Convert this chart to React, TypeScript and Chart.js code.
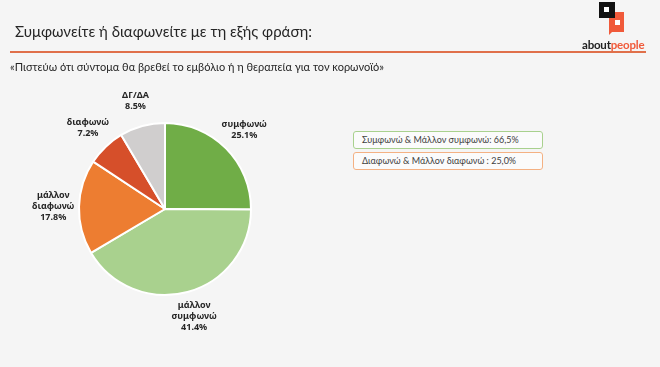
import React, { useEffect, useRef } from "react";
import { Chart, registerables } from "chart.js";

Chart.register(...registerables);

const categories = ["συμφωνώ", "μάλλον συμφωνώ", "μάλλον διαφωνώ", "διαφωνώ", "ΔΓ/ΔΑ"];
const values = [25.1, 41.4, 17.8, 7.2, 8.5];
const colors = ["#70ad47", "#a9d18e", "#ed7d31", "#d64f2a", "#d0cece"];
const summaryTexts = ["Συμφωνώ & Μάλλον συμφωνώ: 66,5%", "Διαφωνώ & Μάλλον διαφωνώ : 25,0%"];
const summaryBorders = ["#a9d18e", "#f4b183"];
const titleText = "Συμφωνείτε ή διαφωνείτε με τη εξής φράση:";
const subtitleText = "«Πιστεύω ότι σύντομα θα βρεθεί το εμβόλιο ή η θεραπεία για τον κορωνοϊό»";

const LABEL_FONT = "700 9px 'Noto Sans', sans-serif";

const outsideLabels = {
  id: "outsideLabels",
  afterDatasetsDraw(chart: any) {
    const ctx = chart.ctx;
    const meta = chart.getDatasetMeta(0);
    ctx.save();
    ctx.font = LABEL_FONT;
    ctx.fillStyle = "#262626";
    ctx.textAlign = "center";
    ctx.textBaseline = "middle";
    meta.data.forEach((arc: any, i: number) => {
      const p = arc.getProps(["x", "y", "startAngle", "endAngle", "outerRadius"], true);
      const mid = (p.startAngle + p.endAngle) / 2;
      const d = p.outerRadius * 1.3;
      const cx = p.x + Math.cos(mid) * d;
      const cy = p.y + Math.sin(mid) * d;
      const lines = categories[i] === "ΔΓ/ΔΑ" ? [categories[i]] : categories[i].split(" ");
      lines.push(values[i].toFixed(1) + "%");
      const lh = 11;
      const top = cy - ((lines.length - 1) * lh) / 2;
      lines.forEach((t: string, k: number) => ctx.fillText(t, cx, top + k * lh));
    });
    ctx.restore();
  },
};

export default function App() {
  const ref = useRef<HTMLCanvasElement | null>(null);
  useEffect(() => {
    document.body.style.margin = "0";
    const chart = new Chart(ref.current as HTMLCanvasElement, {
      type: "pie",
      data: {
        labels: categories,
        datasets: [
          {
            data: values,
            backgroundColor: colors,
            borderColor: "#ffffff",
            borderWidth: 2,
          },
        ],
      },
      options: {
        animation: false,
        responsive: false,
        layout: { padding: { left: 78, right: 408, top: 122, bottom: 71 } },
        plugins: { legend: { display: false }, tooltip: { enabled: false } },
      },
      plugins: [outsideLabels],
    });
    return () => chart.destroy();
  }, []);

  const font = "Lato, 'Noto Sans', sans-serif";
  return (
    <div style={{ position: "relative", width: 660, height: 367, background: "#f5f5f5", overflow: "hidden", fontFamily: font }}>
      <canvas ref={ref} width={660} height={367} style={{ position: "absolute", left: 0, top: 0 }} />
      <div style={{ position: "absolute", left: 15, top: 22, fontSize: 15, color: "#262626", whiteSpace: "nowrap" }}>{titleText}</div>
      <div style={{ position: "absolute", left: 10, top: 51, width: 636, height: 2, background: "#e0704a" }} />
      <div style={{ position: "absolute", left: 10, top: 60, fontSize: 11, color: "#262626", whiteSpace: "nowrap" }}>{subtitleText}</div>
      {/* logo */}
      <div style={{ position: "absolute", left: 609, top: 12, width: 15, height: 20, background: "#f05a3a" }} />
      <div style={{ position: "absolute", left: 609, top: 30, width: 0, height: 0, borderTop: "5px solid #f05a3a", borderRight: "5px solid transparent" }} />
      <div style={{ position: "absolute", left: 599, top: 2, width: 16, height: 16, background: "#111" }} />
      <div style={{ position: "absolute", left: 604, top: 7, width: 5, height: 5, background: "#fff" }} />
      <div style={{ position: "absolute", left: 615, top: 20, width: 5, height: 5, background: "#fff" }} />
      <div style={{ position: "absolute", left: 582, top: 38, fontSize: 11.5, fontWeight: 700, whiteSpace: "nowrap", letterSpacing: -0.2 }}>
        <span style={{ color: "#222" }}>about</span>
        <span style={{ color: "#f05a3a" }}>people</span>
      </div>
      {summaryTexts.map((t, i) => (
        <div
          key={i}
          style={{
            position: "absolute",
            left: 353,
            top: 131 + i * 21,
            width: 180,
            height: 16,
            border: `1px solid ${summaryBorders[i]}`,
            borderRadius: 3,
            background: "#fbfbfb",
            fontSize: 9,
            lineHeight: "16px",
            color: "#404040",
            paddingLeft: 8,
            boxSizing: "content-box",
            whiteSpace: "nowrap",
          }}
        >
          {t}
        </div>
      ))}
    </div>
  );
}
